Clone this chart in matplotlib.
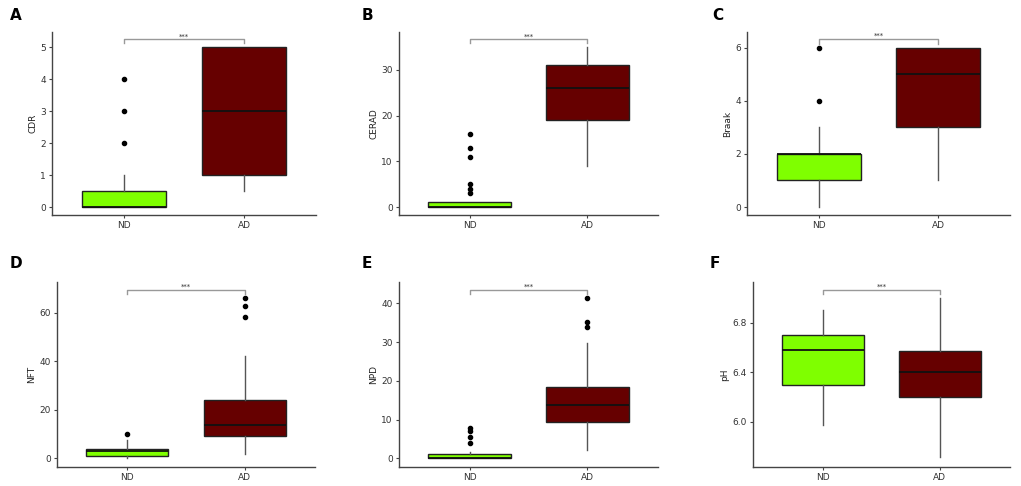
import matplotlib
matplotlib.use("Agg")
import matplotlib.pyplot as plt

groups = ["ND", "AD"]
panel_letters = ["A", "B", "C", "D", "E", "F"]
ylabels = ["CDR", "CERAD", "Braak", "NFT", "NPD", "pH"]

# box stats per panel: (q1, med, q3, whislo, whishi, fliers) for ND then AD
cdr_nd = [0, 0, 0.5, 0, 1, [2, 3, 4]]
cdr_ad = [1, 3, 5, 0.5, 5, []]
cerad_nd = [0, 0, 1, 0, 1, [3, 4, 5, 11, 13, 16]]
cerad_ad = [19, 26, 31, 9, 35, []]
braak_nd = [1, 2, 2, 0, 3, [4, 6]]
braak_ad = [3, 5, 6, 1, 6, []]
nft_nd = [1.1, 2.8, 4, 0, 7.7, [10]]
nft_ad = [9.1, 13.8, 24.1, 1.9, 42, [58.4, 62.8, 66]]
npd_nd = [0, 0, 1, 0, 1.5, [4.0, 5.4, 7.0, 7.7]]
npd_ad = [9.4, 13.8, 18.5, 2.2, 29.8, [33.8, 35.3, 41.4]]
ph_nd = [6.30, 6.58, 6.70, 5.97, 6.90, []]
ph_ad = [6.20, 6.40, 6.57, 5.71, 7.00, []]

stats = [(cdr_nd, cdr_ad), (cerad_nd, cerad_ad), (braak_nd, braak_ad),
         (nft_nd, nft_ad), (npd_nd, npd_ad), (ph_nd, ph_ad)]

ylims = [(-0.25, 5.47), (-1.75, 38.3), (-0.3, 6.59), (-3.6, 72.7), (-2.25, 45.5), (5.633, 7.13)]
yticks = [[0, 1, 2, 3, 4, 5], [0, 10, 20, 30], [0, 2, 4, 6], [0, 20, 40, 60], [0, 10, 20, 30, 40], [6.0, 6.4, 6.8]]
ytick_fmt = ["{:g}", "{:g}", "{:g}", "{:g}", "{:g}", "{:.1f}"]
brackets = [(5.24, 5.12), (36.7, 35.8), (6.33, 6.14), (69.4, 67.6), (43.5, 42.4), (7.067, 7.03)]
sig_label = "***"

fill_colors = ["#7FFF00", "#660000"]

W, H = 1021, 486
fig = plt.figure(figsize=(W / 100, H / 100), dpi=100)

# axes rects in pixel coords: left, right, top, bottom
rects = [(52, 316, 32, 215), (399, 658, 32, 215), (747, 1010, 32, 215),
         (57, 315, 282, 467), (399, 658, 282, 467), (753, 1010, 282, 467)]
letter_pos = [(10, 16), (362, 16), (712, 16), (10, 264), (362, 264), (710, 264)]

for i in range(6):
    l, r, t, b = rects[i]
    ax = fig.add_axes([l / W, 1 - b / H, (r - l) / W, (b - t) / H])
    bxp_stats = []
    for g, s in zip(groups, stats[i]):
        bxp_stats.append(dict(q1=s[0], med=s[1], q3=s[2], whislo=s[3], whishi=s[4],
                              fliers=s[5], label=g))
    res = ax.bxp(bxp_stats, positions=[1, 2], widths=0.7, patch_artist=True,
                 showcaps=False,
                 boxprops=dict(edgecolor="#222222", linewidth=1.0),
                 medianprops=dict(color="#111111", linewidth=1.3),
                 whiskerprops=dict(color="#555555", linewidth=1.0),
                 flierprops=dict(marker="o", markerfacecolor="black", markeredgecolor="black",
                                 markersize=3, linestyle="none"))
    for patch, c in zip(res["boxes"], fill_colors):
        patch.set_facecolor(c)
    ax.set_xlim(0.4, 2.6)
    ax.set_ylim(*ylims[i])
    ax.set_yticks(yticks[i])
    ax.set_yticklabels([ytick_fmt[i].format(v) for v in yticks[i]])
    ax.set_xticks([1, 2])
    ax.set_xticklabels(groups)
    for sp in ["top", "right"]:
        ax.spines[sp].set_visible(False)
    for sp in ["left", "bottom"]:
        ax.spines[sp].set_color("#444444")
        ax.spines[sp].set_linewidth(1.0)
    ax.tick_params(axis="both", labelsize=6.5, colors="#444444", length=2.5, width=0.8,
                   labelcolor="#333333", pad=2)
    ax.set_ylabel(ylabels[i], fontsize=6.5, color="#222222", labelpad=2)
    top, drop = brackets[i]
    ax.plot([1, 1, 2, 2], [drop, top, top, drop], color="#999999", linewidth=1.0, clip_on=False)
    ax.text(1.5, top, sig_label, ha="center", va="bottom", fontsize=5, color="#333333")
    lx, ly = letter_pos[i]
    fig.text(lx / W, 1 - ly / H, panel_letters[i], fontsize=11, fontweight="bold",
             ha="left", va="center")

fig.savefig("out.png", dpi=100)
